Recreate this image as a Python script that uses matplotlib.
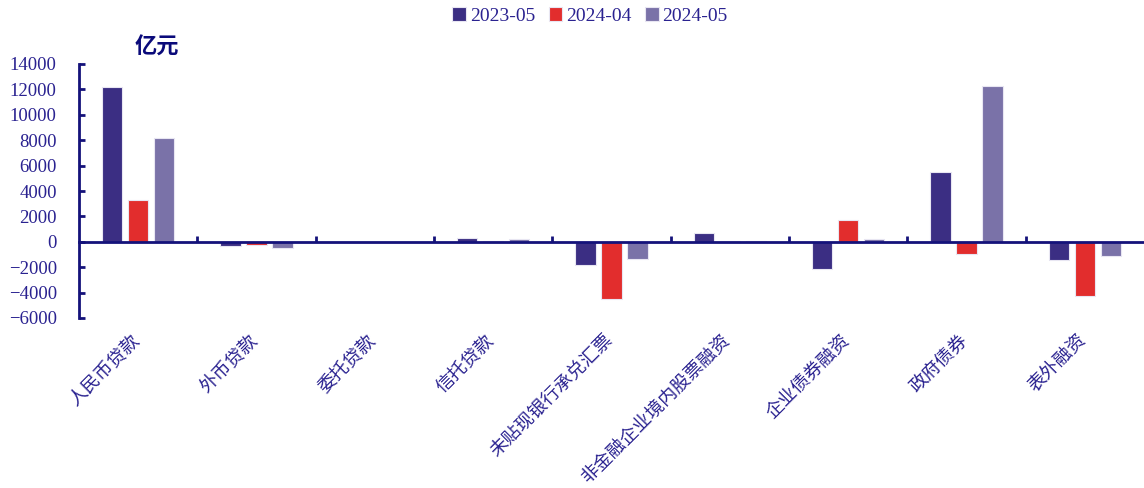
import matplotlib
matplotlib.use("Agg")
import matplotlib.pyplot as plt
import matplotlib.transforms as mtransforms
import numpy as np

plt.rcParams['font.family'] = ['Liberation Serif', 'Noto Sans CJK SC', 'DejaVu Sans']

categories = ["人民币贷款", "外币贷款", "委托贷款", "信托贷款", "未贴现银行承兑汇票",
              "非金融企业境内股票融资", "企业债券融资", "政府债券", "表外融资"]
series_names = ["2023-05", "2024-04", "2024-05"]
v_2023_05 = [12200, -330, 20, 290, -1800, 730, -2150, 5500, -1470]
v_2024_04 = [3300, -250, -20, 100, -4500, 100, 1680, -950, -4250]
v_2024_05 = [8200, -460, 10, 210, -1350, 30, 230, 12300, -1130]
yticks = [-6000, -4000, -2000, 0, 2000, 4000, 6000, 8000, 10000, 12000, 14000]

colors = ["#3B2E83", "#E22D2D", "#7A72A8"]
navy = "#14127A"
text_color = "#2A2290"

fig = plt.figure(figsize=(11.44, 4.88), dpi=100)
ax = fig.add_axes([79/1144, 1 - 318/488, 1 - 79/1144, (318 - 64)/488])

x = np.arange(len(categories))
width = 0.17
offset = 0.22
for k, (vals, name) in enumerate(zip([v_2023_05, v_2024_04, v_2024_05], series_names)):
    ax.bar(x + (k - 1) * offset, vals, width, color=colors[k], label=name,
           edgecolor="#E8E6F2", linewidth=0.8, zorder=2)

ax.set_xlim(-0.5, len(categories) - 0.5)
ax.set_ylim(-6000, 14000)
ax.set_yticks(yticks)
ax.set_yticklabels([f"{t}".replace("-", "\u2212") for t in yticks], fontsize=13.5, color=text_color)

for s in ["top", "right"]:
    ax.spines[s].set_visible(False)
ax.spines["left"].set_color(navy)
ax.spines["left"].set_linewidth(2)
ax.spines["bottom"].set_position(("data", 0))
ax.spines["bottom"].set_color(navy)
ax.spines["bottom"].set_linewidth(2)
ax.spines["bottom"].set_zorder(3)

ax.tick_params(axis="y", direction="in", length=4, width=2, color=navy, pad=16)
ax.set_xticks(x[:-1] + 0.5)
ax.tick_params(axis="x", direction="in", length=4, width=2, color=navy, labelbottom=False)

trans = mtransforms.blended_transform_factory(ax.transData, ax.transAxes)
for i, c in enumerate(categories):
    ax.text(i - 0.01, -0.078, c, transform=trans, rotation=45, rotation_mode="anchor",
            ha="right", va="center", fontsize=13.2, color=text_color,
            family=["Noto Sans CJK SC", "DejaVu Sans"])

fig.text(157/1144, 1 - 47/488, "亿元", fontsize=16, fontweight="bold", color="#0A0A7A",
         ha="center", va="center", family=["Noto Sans CJK SC", "DejaVu Sans"])

leg = fig.legend(loc="center", bbox_to_anchor=(590/1144, 1 - 16/488), ncol=3, frameon=False,
                 fontsize=14, handlelength=0.7, handleheight=0.7, handletextpad=0.2,
                 columnspacing=0.7, labelcolor=text_color)

fig.savefig("out.png", dpi=100, facecolor="white")
